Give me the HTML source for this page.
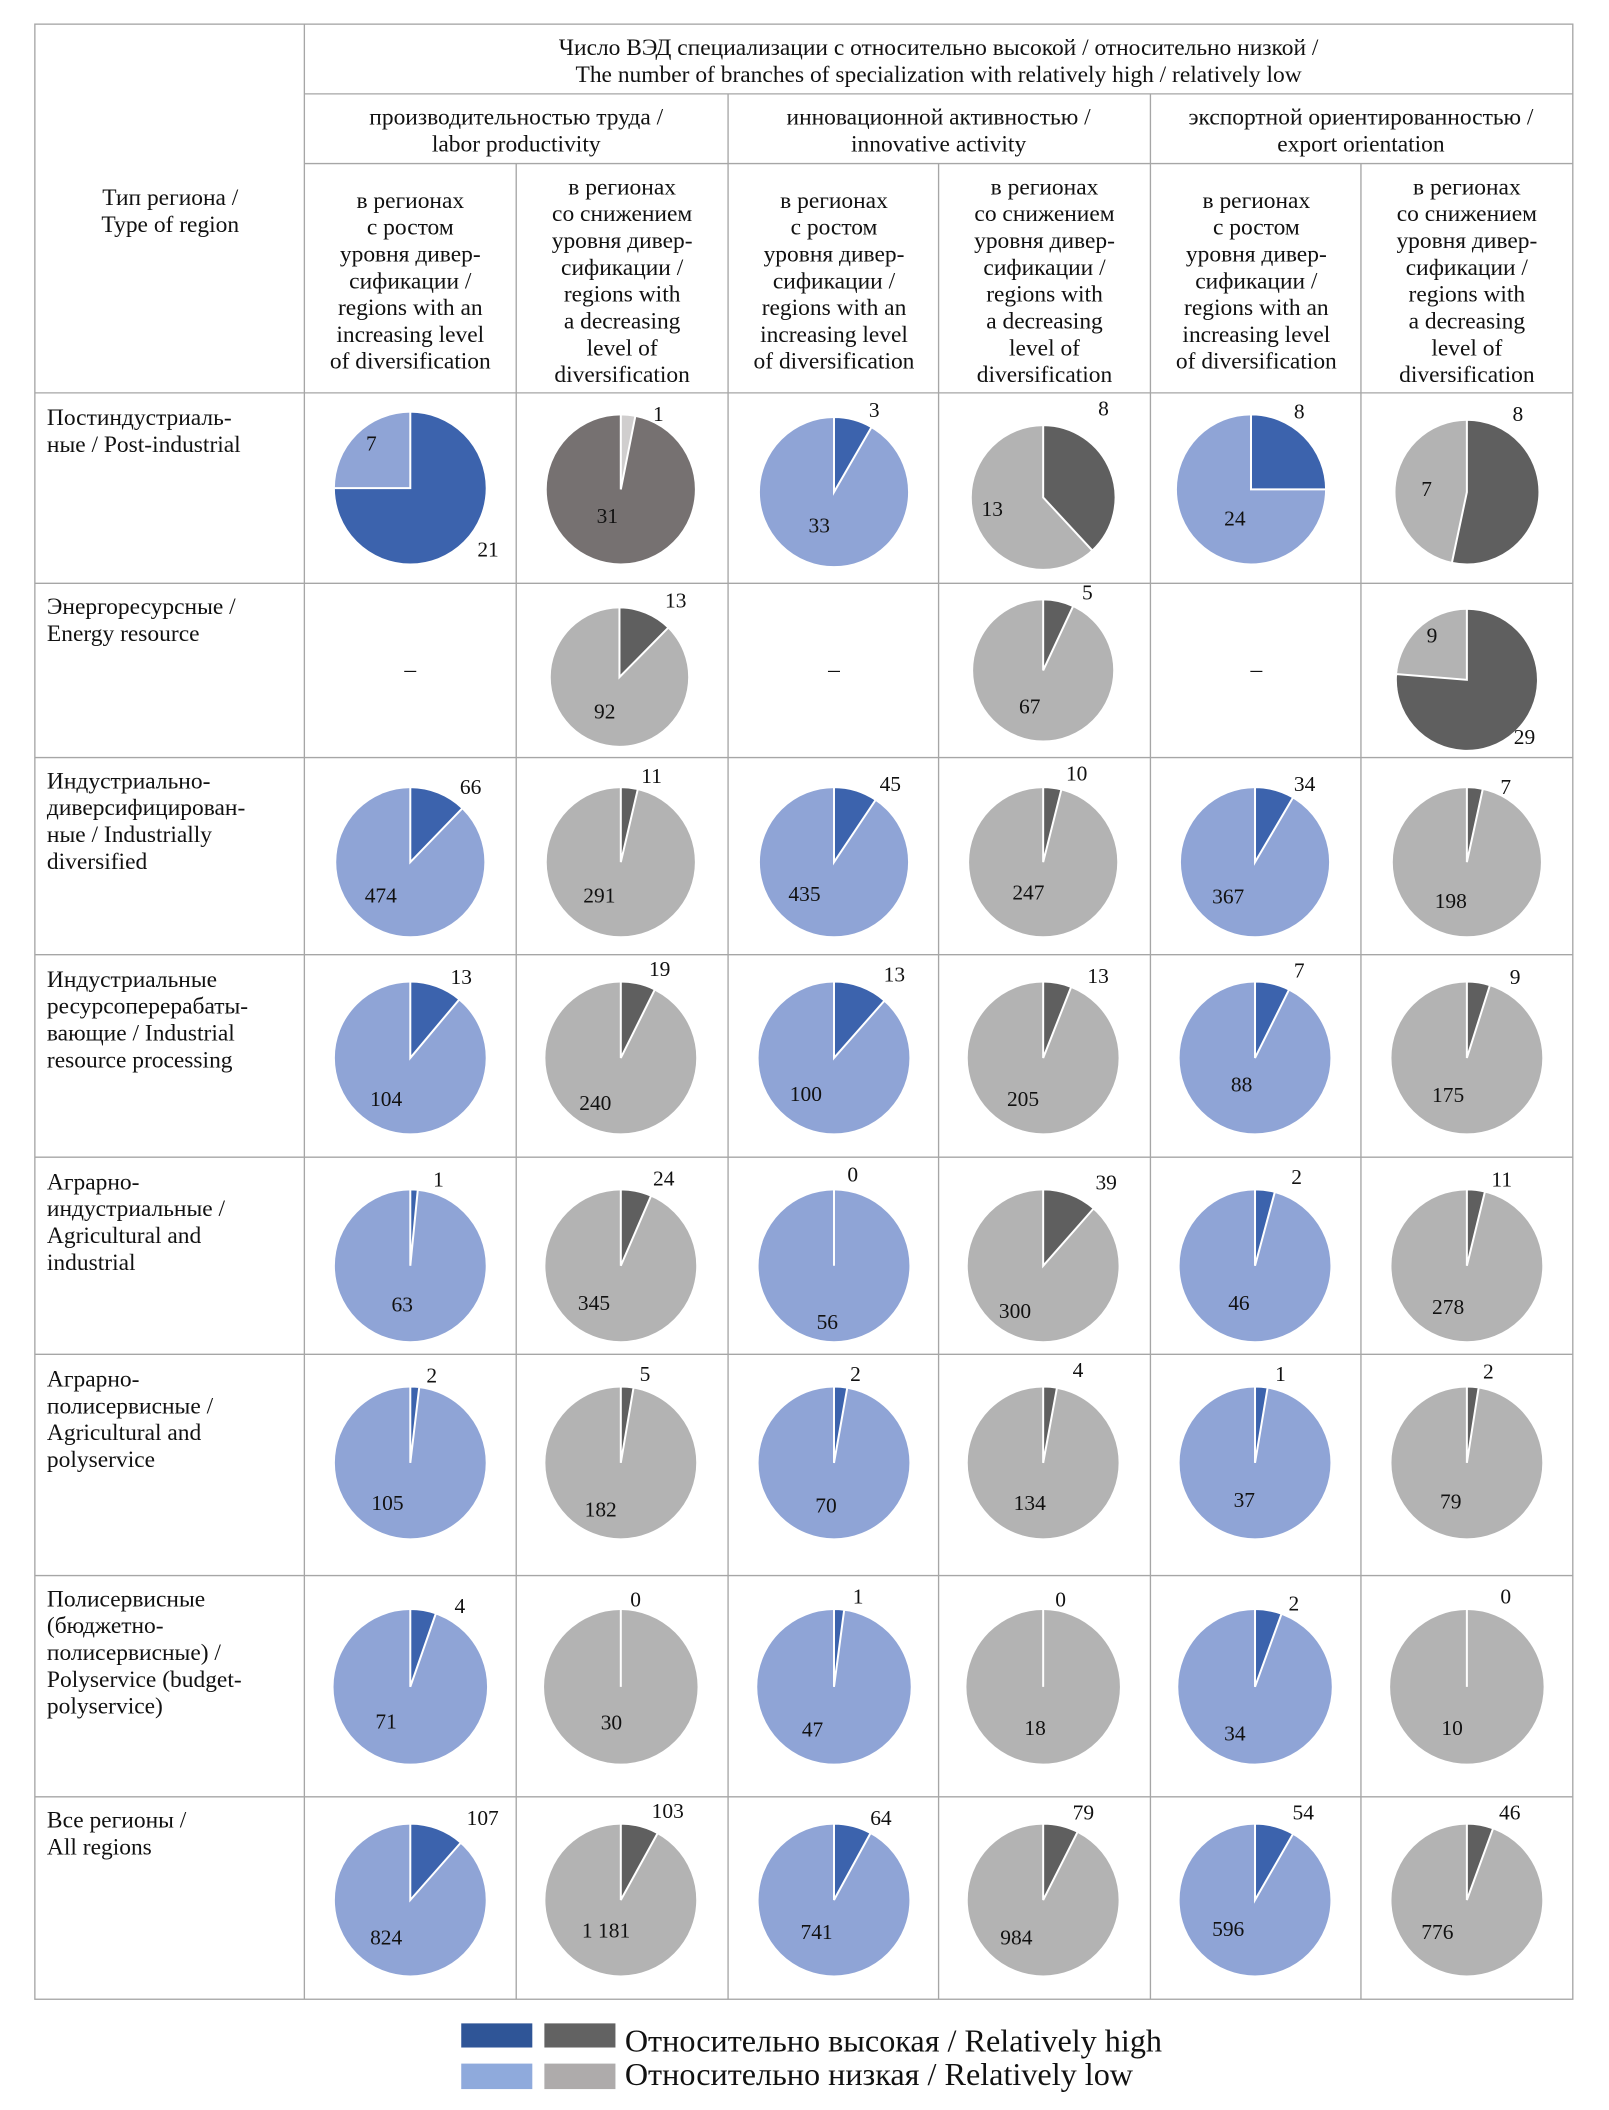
<!DOCTYPE html>
<html><head><meta charset="utf-8"><style>
html,body{margin:0;padding:0;background:#fff;}
svg{display:block;}
text{font-family:"Liberation Serif","Noto Serif CJK SC",serif;fill:#111;}
.h{font-size:17.5px;text-anchor:middle;}
.r{font-size:17.5px;}
.n{font-size:16px;text-anchor:middle;}
</style></head><body>
<svg width="1609" height="2110" viewBox="0 0 1200 1573.6" preserveAspectRatio="none" xmlns="http://www.w3.org/2000/svg">
<g stroke="#a6a6a6" stroke-width="1" fill="none">
<rect x="26" y="18" width="1147" height="1473"/>
<line x1="227" y1="18" x2="227" y2="1491"/>
<line x1="227" y1="70" x2="1173" y2="70"/>
<line x1="227" y1="122" x2="1173" y2="122"/>
<line x1="543" y1="70" x2="543" y2="1491"/>
<line x1="858" y1="70" x2="858" y2="1491"/>
<line x1="385" y1="122" x2="385" y2="1491"/>
<line x1="700" y1="122" x2="700" y2="1491"/>
<line x1="1015" y1="122" x2="1015" y2="1491"/>
<line x1="26" y1="293" x2="1173" y2="293"/>
<line x1="26" y1="435" x2="1173" y2="435"/>
<line x1="26" y1="565" x2="1173" y2="565"/>
<line x1="26" y1="712" x2="1173" y2="712"/>
<line x1="26" y1="863" x2="1173" y2="863"/>
<line x1="26" y1="1010" x2="1173" y2="1010"/>
<line x1="26" y1="1175" x2="1173" y2="1175"/>
<line x1="26" y1="1340" x2="1173" y2="1340"/>
</g>
<text class="h" x="700" y="41">Число ВЭД специализации с относительно высокой / относительно низкой /</text>
<text class="h" x="700" y="61">The number of branches of specialization with relatively high / relatively low</text>
<text class="h" x="385" y="93">производительностью труда /</text>
<text class="h" x="385" y="113">labor productivity</text>
<text class="h" x="700" y="93">инновационной активностью /</text>
<text class="h" x="700" y="113">innovative activity</text>
<text class="h" x="1015" y="93">экспортной ориентированностью /</text>
<text class="h" x="1015" y="113">export orientation</text>
<text class="h" x="127" y="153">Тип региона /</text>
<text class="h" x="127" y="173">Type of region</text>
<g class="h">
<text class="h" x="306" y="155">в регионах</text><text class="h" x="306" y="175">с ростом</text><text class="h" x="306" y="195">уровня дивер-</text><text class="h" x="306" y="215">сификации /</text><text class="h" x="306" y="235">regions with an</text><text class="h" x="306" y="255">increasing level</text><text class="h" x="306" y="275">of diversification</text>
<text class="h" x="464" y="145">в регионах</text><text class="h" x="464" y="165">со снижением</text><text class="h" x="464" y="185">уровня дивер-</text><text class="h" x="464" y="205">сификации /</text><text class="h" x="464" y="225">regions with</text><text class="h" x="464" y="245">a decreasing</text><text class="h" x="464" y="265">level of</text><text class="h" x="464" y="285">diversification</text>
<text class="h" x="622" y="155">в регионах</text><text class="h" x="622" y="175">с ростом</text><text class="h" x="622" y="195">уровня дивер-</text><text class="h" x="622" y="215">сификации /</text><text class="h" x="622" y="235">regions with an</text><text class="h" x="622" y="255">increasing level</text><text class="h" x="622" y="275">of diversification</text>
<text class="h" x="779" y="145">в регионах</text><text class="h" x="779" y="165">со снижением</text><text class="h" x="779" y="185">уровня дивер-</text><text class="h" x="779" y="205">сификации /</text><text class="h" x="779" y="225">regions with</text><text class="h" x="779" y="245">a decreasing</text><text class="h" x="779" y="265">level of</text><text class="h" x="779" y="285">diversification</text>
<text class="h" x="937" y="155">в регионах</text><text class="h" x="937" y="175">с ростом</text><text class="h" x="937" y="195">уровня дивер-</text><text class="h" x="937" y="215">сификации /</text><text class="h" x="937" y="235">regions with an</text><text class="h" x="937" y="255">increasing level</text><text class="h" x="937" y="275">of diversification</text>
<text class="h" x="1094" y="145">в регионах</text><text class="h" x="1094" y="165">со снижением</text><text class="h" x="1094" y="185">уровня дивер-</text><text class="h" x="1094" y="205">сификации /</text><text class="h" x="1094" y="225">regions with</text><text class="h" x="1094" y="245">a decreasing</text><text class="h" x="1094" y="265">level of</text><text class="h" x="1094" y="285">diversification</text>
</g>
<text class="r" x="35" y="317">Постиндустриаль-</text><text class="r" x="35" y="337">ные / Post-industrial</text>
<text class="r" x="35" y="458">Энергоресурсные /</text><text class="r" x="35" y="478">Energy resource</text>
<text class="r" x="35" y="588">Индустриально-</text><text class="r" x="35" y="608">диверсифицирован-</text><text class="r" x="35" y="628">ные / Industrially</text><text class="r" x="35" y="648">diversified</text>
<text class="r" x="35" y="736">Индустриальные</text><text class="r" x="35" y="756">ресурсоперерабаты-</text><text class="r" x="35" y="776">вающие / Industrial</text><text class="r" x="35" y="796">resource processing</text>
<text class="r" x="35" y="887">Аграрно-</text><text class="r" x="35" y="907">индустриальные /</text><text class="r" x="35" y="927">Agricultural and</text><text class="r" x="35" y="947">industrial</text>
<text class="r" x="35" y="1034">Аграрно-</text><text class="r" x="35" y="1054">полисервисные /</text><text class="r" x="35" y="1074">Agricultural and</text><text class="r" x="35" y="1094">polyservice</text>
<text class="r" x="35" y="1198">Полисервисные</text><text class="r" x="35" y="1218">(бюджетно-</text><text class="r" x="35" y="1238">полисервисные) /</text><text class="r" x="35" y="1258">Polyservice (budget-</text><text class="r" x="35" y="1278">polyservice)</text>
<text class="r" x="35" y="1363">Все регионы /</text><text class="r" x="35" y="1383">All regions</text>
<text class="h" x="306" y="505">–</text><text class="h" x="622" y="505">–</text><text class="h" x="937" y="505">–</text>
<g stroke="#fff" stroke-width="1.5">
<!-- row1 -->
<circle cx="306" cy="364" r="57" fill="#8fa4d6"/><path d="M306 364 L306 307 A57 57 0 1 1 249 364 Z" fill="#3c63ad"/>
<circle cx="463" cy="365" r="56" fill="#767171"/><path d="M463 365 L463 309 A56 56 0 0 1 473.9 310.1 Z" fill="#d0cece"/>
<circle cx="622" cy="367" r="56" fill="#8fa4d6"/><path d="M622 367 L622 311 A56 56 0 0 1 650 318.5 Z" fill="#3c63ad"/>
<circle cx="778" cy="371" r="54" fill="#b3b3b3"/><path d="M778 371 L778 317 A54 54 0 0 1 814.7 410.6 Z" fill="#5f5f5f"/>
<circle cx="933" cy="365" r="56" fill="#8fa4d6"/><path d="M933 365 L933 309 A56 56 0 0 1 989 365 Z" fill="#3c63ad"/>
<circle cx="1094" cy="367" r="54" fill="#b3b3b3"/><path d="M1094 367 L1094 313 A54 54 0 1 1 1082.8 419.8 Z" fill="#5f5f5f"/>
<!-- row2 -->
<circle cx="462" cy="505" r="52" fill="#b3b3b3"/><path d="M462 505 L462 453 A52 52 0 0 1 498.5 468 Z" fill="#5f5f5f"/>
<circle cx="778" cy="500" r="53" fill="#b3b3b3"/><path d="M778 500 L778 447 A53 53 0 0 1 800.4 452 Z" fill="#5f5f5f"/>
<circle cx="1094" cy="507" r="53" fill="#b3b3b3"/><path d="M1094 507 L1094 454 A53 53 0 1 1 1041.2 502.7 Z" fill="#5f5f5f"/>
<!-- row3 -->
<circle cx="306" cy="643" r="56" fill="#8fa4d6"/><path d="M306 643 L306 587 A56 56 0 0 1 344.9 602.7 Z" fill="#3c63ad"/>
<circle cx="463" cy="643" r="56" fill="#b3b3b3"/><path d="M463 643 L463 587 A56 56 0 0 1 475.7 588.5 Z" fill="#5f5f5f"/>
<circle cx="622" cy="643" r="56" fill="#8fa4d6"/><path d="M622 643 L622 587 A56 56 0 0 1 653.1 596.5 Z" fill="#3c63ad"/>
<circle cx="778" cy="643" r="56" fill="#b3b3b3"/><path d="M778 643 L778 587 A56 56 0 0 1 791.6 588.7 Z" fill="#5f5f5f"/>
<circle cx="936" cy="643" r="56" fill="#8fa4d6"/><path d="M936 643 L936 587 A56 56 0 0 1 964.4 594.7 Z" fill="#3c63ad"/>
<circle cx="1094" cy="643" r="56" fill="#b3b3b3"/><path d="M1094 643 L1094 587 A56 56 0 0 1 1105.9 588.3 Z" fill="#5f5f5f"/>
<!-- row4 -->
<circle cx="306" cy="789" r="57" fill="#8fa4d6"/><path d="M306 789 L306 732 A57 57 0 0 1 342.6 745.3 Z" fill="#3c63ad"/>
<circle cx="463" cy="789" r="57" fill="#b3b3b3"/><path d="M463 789 L463 732 A57 57 0 0 1 488.4 737.9 Z" fill="#5f5f5f"/>
<circle cx="622" cy="789" r="57" fill="#8fa4d6"/><path d="M622 789 L622 732 A57 57 0 0 1 659.7 746.2 Z" fill="#3c63ad"/>
<circle cx="778" cy="789" r="57" fill="#b3b3b3"/><path d="M778 789 L778 732 A57 57 0 0 1 798.9 736 Z" fill="#5f5f5f"/>
<circle cx="936" cy="789" r="57" fill="#8fa4d6"/><path d="M936 789 L936 732 A57 57 0 0 1 961.4 738 Z" fill="#3c63ad"/>
<circle cx="1094" cy="789" r="57" fill="#b3b3b3"/><path d="M1094 789 L1094 732 A57 57 0 0 1 1111.2 734.7 Z" fill="#5f5f5f"/>
<!-- row5 -->
<circle cx="306" cy="944" r="57" fill="#8fa4d6"/><path d="M306 944 L306 887 A57 57 0 0 1 311.6 887.3 Z" fill="#3c63ad"/>
<circle cx="463" cy="944" r="57" fill="#b3b3b3"/><path d="M463 944 L463 887 A57 57 0 0 1 485.6 891.7 Z" fill="#5f5f5f"/>
<circle cx="622" cy="944" r="57" fill="#8fa4d6"/><line x1="622" y1="944" x2="622" y2="887"/>
<circle cx="778" cy="944" r="57" fill="#b3b3b3"/><path d="M778 944 L778 887 A57 57 0 0 1 815.7 901.2 Z" fill="#5f5f5f"/>
<circle cx="936" cy="944" r="57" fill="#8fa4d6"/><path d="M936 944 L936 887 A57 57 0 0 1 950.8 888.9 Z" fill="#3c63ad"/>
<circle cx="1094" cy="944" r="57" fill="#b3b3b3"/><path d="M1094 944 L1094 887 A57 57 0 0 1 1107.5 888.6 Z" fill="#5f5f5f"/>
<!-- row6 -->
<circle cx="306" cy="1091" r="57" fill="#8fa4d6"/><path d="M306 1091 L306 1034 A57 57 0 0 1 312.7 1034.4 Z" fill="#3c63ad"/>
<circle cx="463" cy="1091" r="57" fill="#b3b3b3"/><path d="M463 1091 L463 1034 A57 57 0 0 1 472.5 1034.8 Z" fill="#5f5f5f"/>
<circle cx="622" cy="1091" r="57" fill="#8fa4d6"/><path d="M622 1091 L622 1034 A57 57 0 0 1 631.9 1034.9 Z" fill="#3c63ad"/>
<circle cx="778" cy="1091" r="57" fill="#b3b3b3"/><path d="M778 1091 L778 1034 A57 57 0 0 1 788.3 1034.9 Z" fill="#5f5f5f"/>
<circle cx="936" cy="1091" r="57" fill="#8fa4d6"/><path d="M936 1091 L936 1034 A57 57 0 0 1 945.4 1034.8 Z" fill="#3c63ad"/>
<circle cx="1094" cy="1091" r="57" fill="#b3b3b3"/><path d="M1094 1091 L1094 1034 A57 57 0 0 1 1102.8 1034.7 Z" fill="#5f5f5f"/>
<!-- row7 -->
<circle cx="306" cy="1258" r="58" fill="#8fa4d6"/><path d="M306 1258 L306 1200 A58 58 0 0 1 325.1 1203.2 Z" fill="#3c63ad"/>
<circle cx="463" cy="1258" r="58" fill="#b3b3b3"/><line x1="463" y1="1258" x2="463" y2="1200"/>
<circle cx="622" cy="1258" r="58" fill="#8fa4d6"/><path d="M622 1258 L622 1200 A58 58 0 0 1 629.6 1200.5 Z" fill="#3c63ad"/>
<circle cx="778" cy="1258" r="58" fill="#b3b3b3"/><line x1="778" y1="1258" x2="778" y2="1200"/>
<circle cx="936" cy="1258" r="58" fill="#8fa4d6"/><path d="M936 1258 L936 1200 A58 58 0 0 1 955.8 1203.5 Z" fill="#3c63ad"/>
<circle cx="1094" cy="1258" r="58" fill="#b3b3b3"/><line x1="1094" y1="1258" x2="1094" y2="1200"/>
<!-- row8 -->
<circle cx="306" cy="1417" r="57" fill="#8fa4d6"/><path d="M306 1417 L306 1360 A57 57 0 0 1 343.7 1374.2 Z" fill="#3c63ad"/>
<circle cx="463" cy="1417" r="57" fill="#b3b3b3"/><path d="M463 1417 L463 1360 A57 57 0 0 1 490.5 1367.1 Z" fill="#5f5f5f"/>
<circle cx="622" cy="1417" r="57" fill="#8fa4d6"/><path d="M622 1417 L622 1360 A57 57 0 0 1 649.3 1367 Z" fill="#3c63ad"/>
<circle cx="778" cy="1417" r="57" fill="#b3b3b3"/><path d="M778 1417 L778 1360 A57 57 0 0 1 803.7 1366.1 Z" fill="#5f5f5f"/>
<circle cx="936" cy="1417" r="57" fill="#8fa4d6"/><path d="M936 1417 L936 1360 A57 57 0 0 1 964.4 1367.6 Z" fill="#3c63ad"/>
<circle cx="1094" cy="1417" r="57" fill="#b3b3b3"/><path d="M1094 1417 L1094 1360 A57 57 0 0 1 1113.6 1363.5 Z" fill="#5f5f5f"/>
</g>
<g>
<text class="n" x="277" y="336">7</text><text class="n" x="364" y="415">21</text>
<text class="n" x="491" y="314">1</text><text class="n" x="453" y="390">31</text>
<text class="n" x="652" y="311">3</text><text class="n" x="611" y="397">33</text>
<text class="n" x="823" y="310">8</text><text class="n" x="740" y="385">13</text>
<text class="n" x="969" y="312">8</text><text class="n" x="921" y="392">24</text>
<text class="n" x="1132" y="314">8</text><text class="n" x="1064" y="370">7</text>
<text class="n" x="504" y="453">13</text><text class="n" x="451" y="536">92</text>
<text class="n" x="811" y="447">5</text><text class="n" x="768" y="532">67</text>
<text class="n" x="1068" y="479">9</text><text class="n" x="1137" y="555">29</text>
<text class="n" x="351" y="592">66</text><text class="n" x="284" y="673">474</text>
<text class="n" x="486" y="584">11</text><text class="n" x="447" y="673">291</text>
<text class="n" x="664" y="590">45</text><text class="n" x="600" y="672">435</text>
<text class="n" x="803" y="582">10</text><text class="n" x="767" y="671">247</text>
<text class="n" x="973" y="590">34</text><text class="n" x="916" y="674">367</text>
<text class="n" x="1123" y="592">7</text><text class="n" x="1082" y="677">198</text>
<text class="n" x="344" y="734">13</text><text class="n" x="288" y="825">104</text>
<text class="n" x="492" y="728">19</text><text class="n" x="444" y="828">240</text>
<text class="n" x="667" y="732">13</text><text class="n" x="601" y="821">100</text>
<text class="n" x="819" y="733">13</text><text class="n" x="763" y="825">205</text>
<text class="n" x="969" y="729">7</text><text class="n" x="926" y="814">88</text>
<text class="n" x="1130" y="734">9</text><text class="n" x="1080" y="822">175</text>
<text class="n" x="327" y="885">1</text><text class="n" x="300" y="978">63</text>
<text class="n" x="495" y="884">24</text><text class="n" x="443" y="977">345</text>
<text class="n" x="636" y="881">0</text><text class="n" x="617" y="991">56</text>
<text class="n" x="825" y="887">39</text><text class="n" x="757" y="983">300</text>
<text class="n" x="967" y="883">2</text><text class="n" x="924" y="977">46</text>
<text class="n" x="1120" y="885">11</text><text class="n" x="1080" y="980">278</text>
<text class="n" x="322" y="1031">2</text><text class="n" x="289" y="1126">105</text>
<text class="n" x="481" y="1030">5</text><text class="n" x="448" y="1131">182</text>
<text class="n" x="638" y="1030">2</text><text class="n" x="616" y="1128">70</text>
<text class="n" x="804" y="1027">4</text><text class="n" x="768" y="1126">134</text>
<text class="n" x="955" y="1030">1</text><text class="n" x="928" y="1124">37</text>
<text class="n" x="1110" y="1028">2</text><text class="n" x="1082" y="1125">79</text>
<text class="n" x="343" y="1203">4</text><text class="n" x="288" y="1289">71</text>
<text class="n" x="474" y="1198">0</text><text class="n" x="456" y="1290">30</text>
<text class="n" x="640" y="1196">1</text><text class="n" x="606" y="1295">47</text>
<text class="n" x="791" y="1198">0</text><text class="n" x="772" y="1294">18</text>
<text class="n" x="965" y="1201">2</text><text class="n" x="921" y="1298">34</text>
<text class="n" x="1123" y="1196">0</text><text class="n" x="1083" y="1294">10</text>
<text class="n" x="360" y="1361">107</text><text class="n" x="288" y="1450">824</text>
<text class="n" x="498" y="1356">103</text><text class="n" x="452" y="1445">1 181</text>
<text class="n" x="657" y="1361">64</text><text class="n" x="609" y="1446">741</text>
<text class="n" x="808" y="1357">79</text><text class="n" x="758" y="1450">984</text>
<text class="n" x="972" y="1357">54</text><text class="n" x="916" y="1444">596</text>
<text class="n" x="1126" y="1357">46</text><text class="n" x="1072" y="1446">776</text>
</g>
<rect x="344" y="1509" width="53" height="18" fill="#2f5597"/>
<rect x="406" y="1509" width="53" height="18" fill="#626262"/>
<rect x="344" y="1539" width="53" height="19" fill="#8faadc"/>
<rect x="406" y="1539" width="53" height="19" fill="#aeabab"/>
<text x="466" y="1530" style="font-size:24px">Относительно высокая / Relatively high</text>
<text x="466" y="1555" style="font-size:24px">Относительно низкая / Relatively low</text>
</svg>
</body></html>
